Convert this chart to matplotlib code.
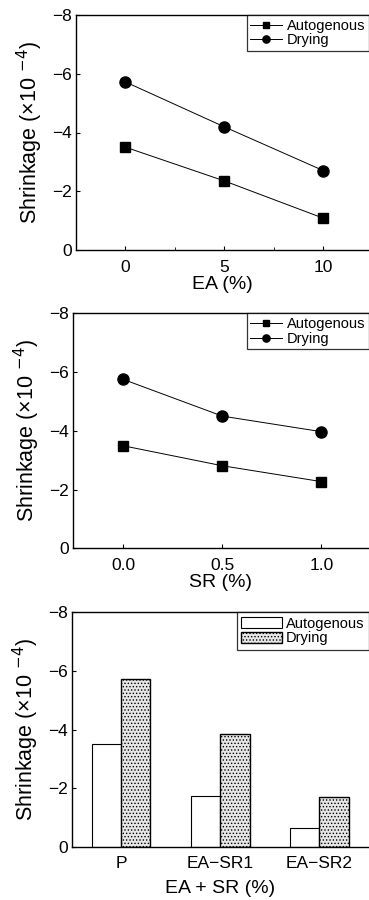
import matplotlib
matplotlib.use("Agg")
import matplotlib.pyplot as plt
import numpy as np

plt.rcParams['font.family'] = ['Liberation Sans', 'DejaVu Sans']
plt.rcParams['hatch.color'] = '#8a8a8a'
plt.rcParams['hatch.linewidth'] = 0.6

# Panel 1: EA
ea_x = [0, 5, 10]
ea_auto = [-3.5, -2.35, -1.08]
ea_dry = [-5.72, -4.19, -2.70]

# Panel 2: SR
sr_x = [0.0, 0.5, 1.0]
sr_auto = [-3.49, -2.81, -2.27]
sr_dry = [-5.75, -4.50, -3.97]

# Panel 3: EA + SR
combo_cats = ['P', 'EA\u2212SR1', 'EA\u2212SR2']
combo_auto = [-3.49, -1.74, -0.63]
combo_dry = [-5.73, -3.85, -1.71]

series_names = ['Autogenous', 'Drying']
ylabel = 'Shrinkage (\u00d710 $^{-4}$)'
yticks = [0, -2, -4, -6, -8]
ytick_labels = ['0', '\u22122', '\u22124', '\u22126', '\u22128']

fig = plt.figure(figsize=(3.69, 9.0), dpi=100)

def style_axes(ax):
    ax.set_ylim(0, -8)
    ax.set_yticks(yticks)
    ax.set_yticklabels(ytick_labels)
    ax.spines['right'].set_visible(False)
    for s in ['left', 'top', 'bottom']:
        ax.spines[s].set_linewidth(1.0)
    ax.tick_params(direction='in', length=3, width=0.8, labelsize=12.5, pad=3)
    ax.tick_params(axis='x', pad=7)
    ax.set_ylabel(ylabel, fontsize=15.5, labelpad=5)

def line_legend(ax):
    leg = ax.legend(loc='upper right', bbox_to_anchor=(1.0, 1.0), fontsize=10.5,
                    frameon=True, fancybox=False, edgecolor='black',
                    borderaxespad=0, handlelength=2.2, handletextpad=0.3,
                    labelspacing=0.05, borderpad=0.25, markerscale=0.65)
    leg.get_frame().set_linewidth(0.9)

# Panel 1
ax1 = fig.add_axes([76/369, 1-250/900, 1-76/369, 235/900])
ax1.plot(ea_x, ea_auto, '-', color='black', lw=0.7, marker='s', ms=6.8, label=series_names[0])
ax1.plot(ea_x, ea_dry, '-', color='black', lw=0.7, marker='o', ms=8, label=series_names[1])
ax1.set_xlim(-2.5, 12.3)
ax1.set_xticks(ea_x)
ax1.set_xticks([2.5, 7.5], minor=True)
ax1.tick_params(axis='x', which='minor', direction='in', length=2)
style_axes(ax1)
ax1.set_xlabel('EA (%)', fontsize=14, labelpad=1)
line_legend(ax1)

# Panel 2
ax2 = fig.add_axes([72.7/369, 1-548.3/900, 1-72.7/369, 235/900])
ax2.plot(sr_x, sr_auto, '-', color='black', lw=0.7, marker='s', ms=6.8, label=series_names[0])
ax2.plot(sr_x, sr_dry, '-', color='black', lw=0.7, marker='o', ms=8, label=series_names[1])
ax2.set_xlim(-0.255, 1.24)
ax2.set_xticks(sr_x)
ax2.set_xticklabels(['0.0', '0.5', '1.0'])
style_axes(ax2)
ax2.set_xlabel('SR (%)', fontsize=14, labelpad=1)
line_legend(ax2)

# Panel 3
ax3 = fig.add_axes([71.7/369, 1-846.7/900, 1-71.7/369, 234.4/900])
xc = np.arange(len(combo_cats))
w = 0.295
ax3.bar(xc - w/2, combo_auto, width=w, bottom=0, color='white', edgecolor='black',
        linewidth=0.8, label=series_names[0])
ax3.bar(xc + w/2, combo_dry, width=w, bottom=0, color='#e6e6e6', edgecolor='black',
        linewidth=1.0, hatch='.....', label=series_names[1])
ax3.set_xlim(-0.5, 2.5)
ax3.set_xticks(xc)
ax3.set_xticklabels(combo_cats)
style_axes(ax3)
ax3.tick_params(axis='x', length=0)
ax3.set_xlabel('EA + SR (%)', fontsize=14, labelpad=6)
leg = ax3.legend(loc='upper right', bbox_to_anchor=(1.0, 1.0), fontsize=10.5,
                 frameon=True, fancybox=False, edgecolor='black',
                 borderaxespad=0, handlelength=2.8, handleheight=0.8,
                 handletextpad=0.3, labelspacing=0.05, borderpad=0.3)
leg.get_frame().set_linewidth(0.9)

fig.savefig('out.png', dpi=100)
